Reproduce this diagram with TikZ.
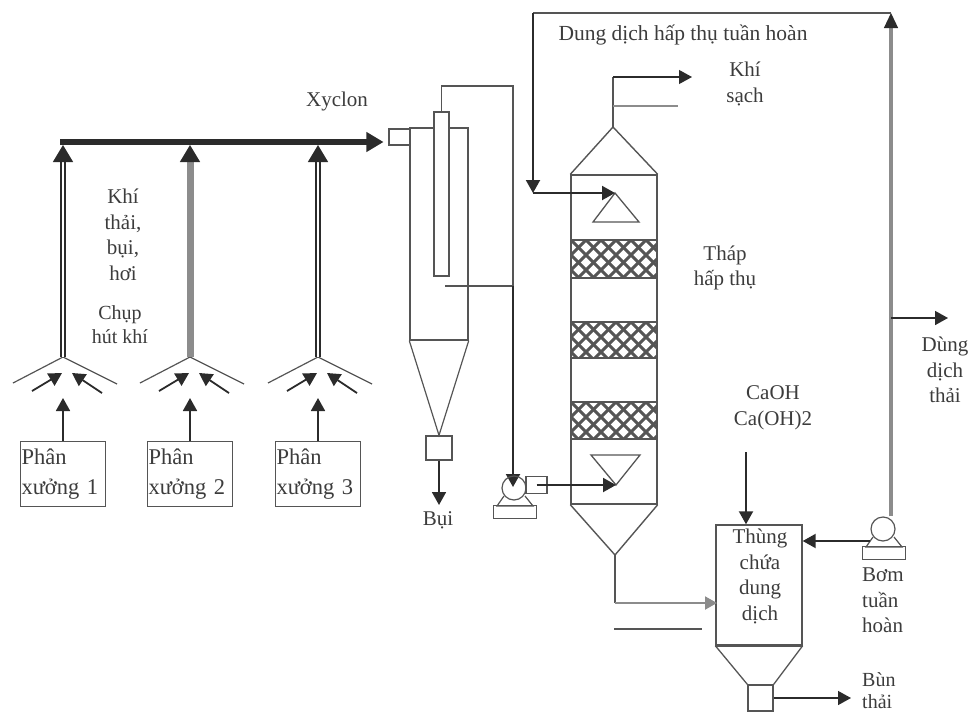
\documentclass[tikz,border=0pt]{standalone}
\usepackage{fontspec}
\setmainfont{Liberation Serif}
\usepackage{xcolor}
\definecolor{scrubdark}{HTML}{2b2b2b}
\definecolor{scrubline}{HTML}{555555}
\definecolor{scrubgray}{HTML}{8c8c8c}
\definecolor{scrubtext}{HTML}{3c3c3c}
\usetikzlibrary{shapes.geometric, arrows.meta, positioning, calc}
\begin{document}
\begin{tikzpicture}[
  x=1pt, y=-1pt,
  vessel/.style={rectangle, draw=scrubline, line width=1.4pt, inner sep=0pt},
  workshop/.style={vessel, minimum width=85pt, minimum height=65pt, align=left,
    text width=83pt, text=scrubtext, font=\fontsize{22.5}{30}\selectfont},
  lbl/.style={inner sep=0pt, align=center, text=scrubtext, font=\fontsize{21}{25.5}\selectfont},
  pipe/.style={draw=scrubline, line width=1.6pt},
  flow/.style={draw=scrubdark, line width=2pt, -{Triangle[length=13pt,width=14pt]}},
  bigflow/.style={draw=scrubdark, line width=1.5pt, -{Triangle[length=17pt,width=20pt]}},
  hatch/.style={draw=scrubline, line width=3pt}
]
\useasboundingbox (0,0) rectangle (971,715);
% workshops and hoods
\foreach \n/\x in {1/63, 2/190, 3/318} {
  \node[workshop] (shop\n) at (\x,474) {Phân\\xưởng \n};
  \coordinate (apex\n) at (\x,357);
  \coordinate (top\n) at (\x,145);
  \coordinate (neck\n) at (\x,398);
  \draw[pipe, line width=1.2pt] (\x-50,383) -- (apex\n) -- (\x+54,384);
  \draw[flow, line width=1.8pt] (shop\n.north) -- (neck\n);
  \draw[flow, line width=1.8pt] (\x-31,391) -- (\x-1,373);
  \draw[flow, line width=1.8pt] (\x+39,393) -- (\x+9,373);
}
\draw[draw=scrubdark, double=white, double distance=2pt, line width=1.6pt] (apex1) -- (63,158);
\draw[draw=scrubgray, line width=7pt] (apex2) -- (190,158);
\draw[draw=scrubdark, double=white, double distance=2pt, line width=1.6pt] (apex3) -- (318,158);
% cyclone
\node[vessel, minimum width=58pt, minimum height=212pt] (cyc) at (439,234) {};
\node[vessel, minimum width=21pt, minimum height=16pt] (inlet) at (399.5,137) {};
\node[vessel, fill=white, minimum width=15pt, minimum height=164pt] (tube) at (441.5,194) {};
\node[vessel, minimum width=26pt, minimum height=24pt] (dust) at (439,448) {};
\coordinate (hdr) at (60,142);
\coordinate (hdrend) at (368,142);
\draw[draw=scrubdark, line width=5.5pt] (hdr) -- (hdrend);
\draw[bigflow] (hdrend) -- (inlet.west |- hdr) [shorten >=5pt];
\foreach \n/\x in {1/63, 2/190, 3/318}
  \draw[bigflow] (\x,160) -- (top\n);
\draw[pipe, line width=1.2pt] (cyc.south west) -- (dust.north) -- (cyc.south east);
\draw[flow, line width=1.8pt] (dust.south) -- (439,505);
\node[lbl] (bui) at (438,520) {Bụi};
\node[lbl] (xyclon) at (337,101) {Xyclon};
% return line to fan
\coordinate (bend) at (513,86);
\coordinate (gasout) at (445,286);
\coordinate (jn) at (513,286);
\coordinate (fanin) at (513,487);
\draw[pipe] (tube.north) |- (bend) -- (jn);
\draw[pipe, line width=1.3pt] (gasout) -- (jn);
\draw[flow] (jn) -- (fanin);
% pumps
\foreach \n/\x/\y in {1/514/488, 2/883/529} {
  \node[circle, draw=scrubline, line width=1.2pt, minimum size=24pt, inner sep=0pt] (pump\n) at (\x,\y) {};
  \node[vessel, minimum width=43pt, minimum height=13pt] (base\n) at (\x+1,\y+24) {};
  \draw[pipe, line width=1.2pt] (\x-10,\y+8) -- (\x-17,\y+18) -- (\x+19,\y+18) -- (\x+11,\y+8);
}
\node[vessel, minimum width=21pt, minimum height=17pt] (fanout) at (536.5,485) {};
% tower
\node[vessel, minimum width=86pt, minimum height=329pt] (tower) at (614,339.5) {};
\coordinate (tip) at (613,127);
\draw[pipe, line width=1.4pt] (tower.north west) -- (tip) -- (tower.north east);
\coordinate (drain) at (615,555);
\draw[pipe, line width=1.4pt] (tower.south west) -- (drain) -- (tower.south east);
\foreach \ya/\yb in {240/278, 322/358, 402/439} {
  \begin{scope}
    \clip (571,\ya) rectangle (657,\yb);
    \foreach \k in {-3,...,8} {
      \draw[hatch] ({571+\k*15},\ya) -- ++(40,40);
      \draw[hatch] ({571+\k*15},\ya) -- ++(-40,40);
    }
  \end{scope}
  \draw[pipe, line width=1.8pt] (571,\ya) -- (657,\ya) (571,\yb) -- (657,\yb);
}
% nozzles
\coordinate (nozup) at (615,193);
\coordinate (nozlow) at (616,485);
\draw[pipe, line width=1.3pt] (nozup) -- (639,222) -- (593,222) -- cycle;
\draw[pipe, line width=1.3pt] (nozlow) -- (640,455) -- (591,455) -- cycle;
\draw[flow] (fanout.center) -- (nozlow);
% clean gas
\coordinate (stack) at (613,77);
\coordinate (cleanout) at (692,77);
\draw[pipe, line width=2pt] (tip) -- (stack);
\draw[flow, line width=1.2pt] (stack) -- (cleanout);
\coordinate (stacktwo) at (613,106);
\coordinate (stacktwoend) at (678,106);
\draw[draw=scrubgray, line width=2pt] (stacktwo) -- (stacktwoend);
\node[lbl] (sach) at (745,84) {Khí\\sạch};
\node[lbl] (thap) at (725,268) {Tháp\\hấp thụ};
% tank
\node[vessel, minimum width=86pt, minimum height=120pt] (tank) at (759,585) {};
\node[vessel, minimum width=25pt, minimum height=26pt] (sludge) at (760.5,698) {};
\draw[pipe, line width=1.3pt] (tank.south west) -- (sludge.north west) (tank.south east) -- (sludge.north east);
\draw[pipe, line width=1.8pt] (tank.south west) -- (tank.south east);
\node[lbl] at (760,576.5) (tanklbl) {Thùng\\chứa\\dung\\dịch};
\coordinate (lime) at (746,452);
\draw[flow] (lime) -- (tank.north -| lime);
\node[lbl] (caoh) at (773,408) {CaOH\\Ca(OH)2};
\coordinate (sludgeout) at (851,698);
\draw[flow, line width=1.4pt] (sludge.east) -- (sludgeout);
\node[lbl, align=left, anchor=south west, font=\fontsize{20}{22}\selectfont] (bun) at (862,709) {Bùn\\thải};
% bottom of tower to tank
\coordinate (legdown) at (615,603);
\coordinate (legin) at (717,603);
\draw[pipe, line width=2.2pt] (drain) -- (legdown);
\draw[draw=scrubgray, line width=2pt, -{Triangle[length=12pt,width=13pt]}] (legdown) -- (legin);
\coordinate (ovfl) at (614,629);
\coordinate (ovflend) at (702,629);
\draw[pipe, line width=1.2pt] (ovfl) -- (ovflend);
% circulation loop
\coordinate (loopcorner) at (891,13);
\coordinate (loopdrop) at (533,193);
\draw[draw=scrubgray, line width=4pt] (pump2.north -| loopcorner) -- (891,25);
\draw[flow, line width=1.2pt, -{Triangle[length=15pt,width=14pt]}] (891,27) -- (loopcorner);
\draw[pipe, line width=2pt] (loopcorner) -- (533,13);
\draw[flow] (533,13) -- (loopdrop);
\draw[flow] (loopdrop) -- (nozup);
\coordinate (bleed) at (891,318);
\draw[flow, line width=1.6pt] (bleed) -- (948,318);
\draw[flow] (pump2.west |- 0,541) -- (tank.east |- 0,541);
\node[lbl, font=\fontsize{21.5}{25.5}\selectfont] (loop) at (683,35) {Dung dịch hấp thụ tuần hoàn};
\node[lbl] (bleedlbl) at (945,370) {Dùng\\dịch\\thải};
\node[lbl, align=left, anchor=north west] (pumplbl) at (862,568) {Bơm\\tuần\\hoàn};
% gas labels
\node[lbl] (khi) at (123,235) {Khí\\thải,\\bụi,\\hơi};
\node[lbl, font=\fontsize{20}{24}\selectfont] (hood) at (120,325) {Chụp\\hút khí};
\end{tikzpicture}
\end{document}
